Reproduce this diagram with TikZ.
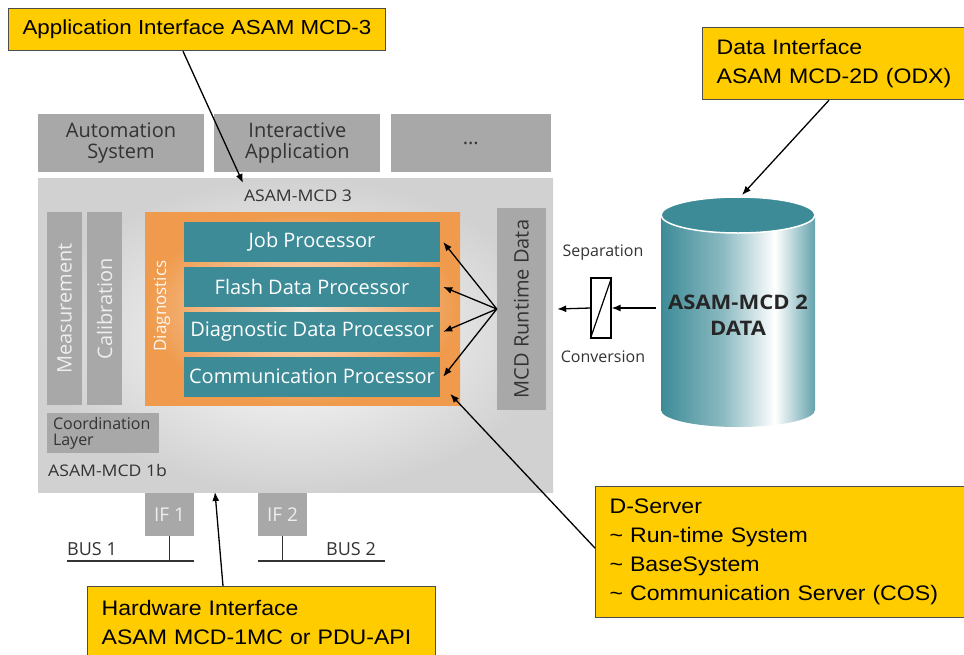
\documentclass[tikz,border=0pt]{standalone}
\usepackage{fontspec}
\setmainfont{Liberation Sans}[FakeStretch=1.1]
\newfontfamily\diagfont{Open Sans}
\newfontfamily\diagwide{Open Sans}[FakeStretch=1.1]
\usetikzlibrary{positioning,arrows.meta,calc}
\definecolor{calloutyellow}{HTML}{FFCC00}
\definecolor{boxgray}{HTML}{A8A8A8}
\definecolor{tealc}{HTML}{3D8B97}
\definecolor{orangec}{HTML}{EF9A4C}
\definecolor{labeldark}{HTML}{333333}
\definecolor{labellight}{HTML}{EEEEEE}
\pgfdeclarehorizontalshading{cylbody}{100bp}{color(0bp)=(tealc); color(25bp)=(tealc); color(45bp)=(tealc!60!white); color(62bp)=(white); color(75bp)=(tealc!80!white); color(100bp)=(tealc!80!white)}

\begin{document}
\begin{tikzpicture}[x=1pt,y=-1pt,
        callout/.style={fill=calloutyellow, draw=black!70, line width=1.2pt, inner xsep=14pt, anchor=north west, align=left, font=\fontsize{21}{29}\selectfont},
        graybox/.style={fill=boxgray, inner sep=0pt, align=center, text=labeldark, font=\diagfont\fontsize{20}{21}\selectfont},
        tealbox/.style={fill=tealc, minimum width=256pt, minimum height=40pt, inner sep=0pt, text=white, font=\diagfont\fontsize{20}{21}\selectfont},
        smalllabel/.style={text=labeldark, inner sep=0pt, font=\diagfont\fontsize{16}{18}\selectfont},
        widelabel/.style={text=labeldark, inner sep=0pt, font=\diagwide\fontsize{16}{18}\selectfont},
        pointer/.style={-{Latex[length=9pt,width=7pt]}, line width=1.3pt},
        busline/.style={line width=1.5pt, draw=labeldark},
        node distance=4.5pt,
        ]
        \useasboundingbox (0,0) rectangle (964,654);

        % Main area
        \shade[inner color=white, outer color=black!18] (38,178) rectangle (553,492);
        \node[widelabel] (mcd3) at (298,196) {ASAM-MCD 3};
        \node[widelabel, anchor=west] (mcd1b) at (48,470) {ASAM-MCD 1b};

        % Applications on top
        \node[graybox, minimum width=166pt, minimum height=58pt] (auto) at (121,143) {Automation\\System};
        \node[graybox, minimum width=166pt, minimum height=58pt, right=10pt of auto] (inter) {Interactive\\Application};
        \node[graybox, minimum width=160pt, minimum height=58pt, right=10pt of inter] (more) {...};

        % Measurement, Calibration, Coordination
        \node[graybox, rotate=90, minimum width=193pt, minimum height=35pt, text=labellight] (meas) at (64.5,308.5) {Measurement};
        \node[graybox, rotate=90, minimum width=193pt, minimum height=35pt, text=labellight] (calib) at (104.5,308.5) {Calibration};
        \node[graybox, text width=100pt, inner xsep=6pt, minimum height=40pt, align=left, font=\diagfont\fontsize{16}{16}\selectfont] (coord) at (103,433) {Coordination\\Layer};

        % Diagnostics
        \shade[inner color=orangec!22!white, outer color=orangec] (145,212) rectangle (460,405);
        \node[text=white!92!orangec, rotate=90, inner sep=0pt, font=\diagfont\fontsize{17}{19}\selectfont] (diagl) at (162,306) {Diagnostics};
        \node[tealbox] (job) at (312,242) {Job Processor};
        \node[tealbox, below=of job] (flash) {Flash Data Processor};
        \node[tealbox, below=of flash] (diag) {Diagnostic Data Processor};
        \node[tealbox, below=of diag] (comm) {Communication Processor};

        % Runtime data (rotated: north is its left side)
        \node[graybox, rotate=90, minimum width=202pt, minimum height=49pt] (runtime) at (521.5,309) {MCD Runtime Data};
        \foreach \p in {job,flash,diag,comm}
            \draw[pointer] (runtime.north) -- ([xshift=3pt]\p.east);

        % ODX data
        \shade[shading=cylbody] (661,215) -- (661,410) arc[start angle=180, end angle=0, x radius=77, y radius=17] -- (815,215) -- cycle;
        \draw[fill=tealc, draw=white, line width=1.5pt] (738,215) ellipse [x radius=77, y radius=18];
        \node[text=black!85, align=center, font=\diagwide\bfseries\fontsize{20}{26}\selectfont] (odx) at (738,315) {ASAM-MCD 2\\DATA};
        \coordinate (odxtop) at (742,195);
        \coordinate (odxwest) at (656,308);

        % Separation / conversion
        \node[draw, fill=white, line width=1.2pt, minimum width=20pt, minimum height=60pt, inner sep=0pt] (conv) at (601,308) {};
        \draw[line width=1.2pt] (conv.south west) -- (conv.north east);
        \node[smalllabel] (sep) at (603,253) {Separation};
        \node[smalllabel] (conver) at (603,357) {Conversion};
        \draw[pointer] (odxwest) -- (conv.east);
        \draw[pointer] (conv.west) -- ([xshift=11pt]runtime.south);

        % Interfaces and busses
        \node[graybox, minimum width=49pt, minimum height=43pt, text=labellight, font=\diagfont\fontsize{19}{21}\selectfont] (if1) at (169.5,514.5) {IF 1};
        \node[graybox, minimum width=49pt, minimum height=43pt, text=labellight, font=\diagfont\fontsize{19}{21}\selectfont] (if2) at (282.5,514.5) {IF 2};
        \coordinate (bus1l) at (67,561);
        \coordinate (bus1r) at (194,561);
        \coordinate (bus2l) at (258,561);
        \coordinate (bus2r) at (385,561);
        \draw[busline] (bus1l) -- (bus1r);
        \draw[busline] (bus2l) -- (bus2r);
        \draw[busline] (if1.south) -- (if1.south |- bus1r);
        \draw[busline] (if2.south) -- (if2.south |- bus2r);
        \node[smalllabel, anchor=south west, font=\diagfont\fontsize{18}{20}\selectfont] (bus1) at (67,556) {BUS 1};
        \node[smalllabel, anchor=south east, font=\diagfont\fontsize{18}{20}\selectfont] (bus2) at (376,556) {BUS 2};

        % Callouts
        \node[callout, minimum height=42pt, font=\fontsize{20.3}{29}\selectfont] (app) at (8,8) {Application Interface ASAM MCD-3};
        \node[callout, text width=245pt, minimum height=72pt] (data) at (702,27) {Data Interface\\ASAM MCD-2D (ODX)};
        \node[callout, text width=352pt, minimum height=131pt] (dserver) at (595,486) {D-Server\\\textasciitilde\ Run-time System\\\textasciitilde\ BaseSystem\\\textasciitilde\ Communication Server (COS)};
        \node[callout, text width=320pt, minimum height=72pt] (hw) at (87,586) {Hardware Interface\\ASAM MCD-1MC or PDU-API};
        \coordinate (mcdtop) at (243,183);
        \coordinate (mcdbottom) at (215,492);

        % Pointers from callouts
        \draw[pointer] ([xshift=175pt]app.south west) -- (mcdtop);
        \draw[pointer] ([xshift=127pt]data.south west) -- (odxtop);
        \draw[pointer] ([yshift=4pt]dserver.west) -- ($(comm.south east)+(10,-3)$);
        \draw[pointer] ([xshift=136pt]hw.north west) -- (mcdbottom);

    \end{tikzpicture}
\end{document}
